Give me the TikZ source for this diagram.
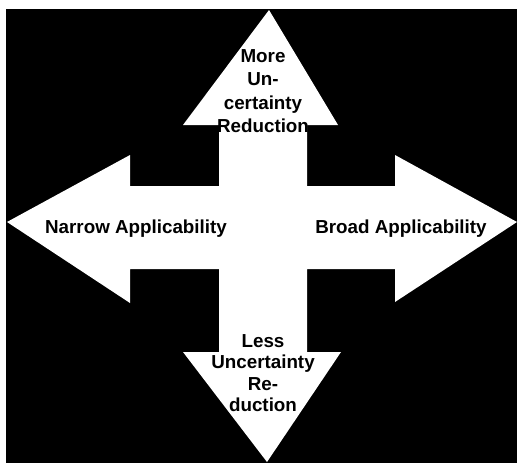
\documentclass[tikz,border=0pt]{standalone}
\usepackage{fontspec}
\setmainfont{Liberation Sans}
\begin{document}
\begin{tikzpicture}[x=1pt,y=-1pt,
  armtext/.style={font=\bfseries\fontsize{18.8}{23.3}\selectfont, text=black, inner sep=0pt, align=center},
  armtextlow/.style={armtext, font=\bfseries\fontsize{18.8}{21.3}\selectfont},
]
% page and black panel
\fill[white] (0,0) rectangle (517,463);
\useasboundingbox (0,0) rectangle (517,463);
\fill[black] (6,9) rectangle (517,463);

% four-way white arrow
\fill[white]
  (269,10) -- (338,125) -- (307,125) -- (307,186) -- (395,186) -- (395,155)
  -- (517,222) -- (395,302) -- (395,269) -- (307,269) -- (307,352)
  -- (341,352) -- (267,462) -- (183,352) -- (219,352) -- (219,269)
  -- (130,269) -- (130,303) -- (7,222) -- (130,155) -- (130,186)
  -- (219,186) -- (219,125) -- (183,125) -- cycle;

% arm labels
\node[armtext, anchor=north] (more) at (263,49.5) {More\\Un-\\certainty\\Reduction};
\node[armtextlow, anchor=north] (less) at (263,334.5) {Less\\Uncertainty\\Re-\\duction};
\node[armtext, anchor=base] (narrow) at (136,233) {Narrow Applicability};
\node[armtext, anchor=base] (broad) at (401,233) {Broad Applicability};
\end{tikzpicture}
\end{document}
